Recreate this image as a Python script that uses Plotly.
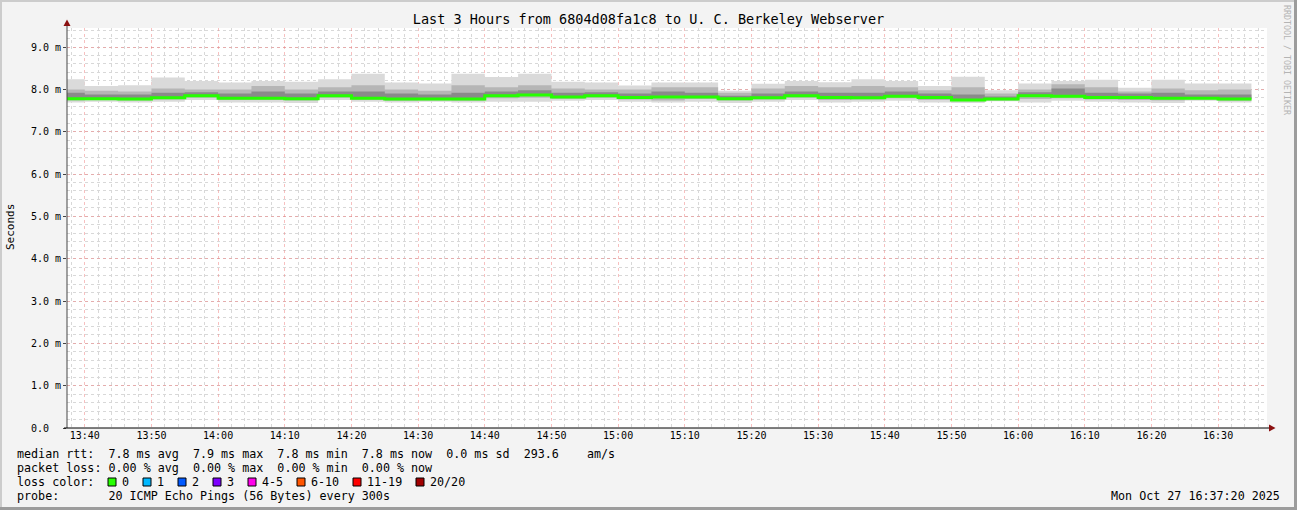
import pandas as pd
import plotly.graph_objects as go

# canvas and plot box (pixels)
W, H = 1297, 510
L, R, T, B = 67, 30, 28, 82

# 5 minute probe intervals (start times), last one ends 16:35
start_times = pd.date_range("2025-10-27 13:35", "2025-10-27 16:30", freq="5min")
end_time = pd.Timestamp("2025-10-27 16:35")

# rtt values in ms, one per interval
smoke_top = [8.24, 8.08, 8.10, 8.28, 8.20, 8.16, 8.20, 8.18, 8.24, 8.37,
             8.16, 8.14, 8.37, 8.29, 8.37, 8.18, 8.16, 8.09, 8.16,
             8.16, 7.97, 8.13, 8.20, 8.17, 8.24, 8.20, 8.08, 8.30, 7.98,
             8.14, 8.20, 8.23, 8.04, 8.23, 8.14, 8.14]
smoke_upper = [8.00, 7.97, 7.95, 8.02, 8.00, 8.00, 8.08, 8.00, 8.05, 8.10,
               8.00, 7.97, 8.10, 8.05, 8.10, 8.02, 8.00, 8.00, 8.05,
               8.05, 7.92, 8.02, 8.08, 8.05, 8.08, 8.05, 7.98, 8.05, 7.90,
               8.00, 8.12, 8.05, 7.95, 8.02, 7.98, 8.00]
smoke_core = [7.92, 7.88, 7.88, 7.92, 7.93, 7.90, 7.95, 7.90, 7.95, 7.95,
              7.90, 7.88, 7.92, 7.95, 7.98, 7.92, 7.93, 7.90, 7.95,
              7.92, 7.85, 7.90, 7.95, 7.92, 7.92, 7.95, 7.90, 7.88, 7.83,
              7.93, 8.02, 7.92, 7.90, 7.92, 7.88, 7.88]
median_rtt = [7.78, 7.78, 7.77, 7.80, 7.85, 7.79, 7.79, 7.78, 7.85, 7.79,
              7.77, 7.77, 7.77, 7.85, 7.87, 7.82, 7.85, 7.81, 7.82,
              7.82, 7.78, 7.80, 7.85, 7.81, 7.80, 7.84, 7.81, 7.75, 7.77,
              7.85, 7.84, 7.81, 7.81, 7.79, 7.79, 7.77]
smoke_lower = [7.74, 7.75, 7.74, 7.76, 7.80, 7.75, 7.75, 7.74, 7.80, 7.75,
               7.73, 7.74, 7.73, 7.79, 7.80, 7.78, 7.80, 7.76, 7.74,
               7.77, 7.74, 7.76, 7.80, 7.75, 7.76, 7.79, 7.75, 7.72, 7.74,
               7.77, 7.79, 7.76, 7.75, 7.74, 7.76, 7.73]
smoke_bottom = [7.69, 7.71, 7.69, 7.71, 7.75, 7.69, 7.69, 7.68, 7.75, 7.71,
                7.69, 7.71, 7.69, 7.71, 7.71, 7.73, 7.75, 7.71, 7.69,
                7.71, 7.68, 7.71, 7.75, 7.69, 7.71, 7.73, 7.69, 7.68, 7.72,
                7.69, 7.73, 7.71, 7.69, 7.68, 7.73, 7.69]

y_ticks = [0, 1, 2, 3, 4, 5, 6, 7, 8, 9]
y_ticktext = ["0.0\u00a0\u00a0", "1.0 m", "2.0 m", "3.0 m", "4.0 m",
              "5.0 m", "6.0 m", "7.0 m", "8.0 m", "9.0 m"]

loss_labels = ["0", "1", "2", "3", "4-5", "6-10", "11-19", "20/20"]
loss_colors = ["#26ff00", "#00b8ff", "#0059ff", "#7e00ff",
               "#ff00ea", "#ff5500", "#ff0000", "#a10000"]

FONT = "DejaVu Sans Mono"


def px(x):
    return (x - L) / (W - L - R)


def py(y):
    return (H - B - y) / (H - T - B)


def nb(s):
    return s.replace(" ", "\u00a0")


xs = list(start_times) + [end_time]


def step(vals):
    return list(vals) + [vals[-1]]


fig = go.Figure()


def band(lo, hi, color):
    fig.add_trace(go.Scatter(x=xs, y=step(lo), mode="lines", line=dict(width=0, shape="hv"),
                             hoverinfo="skip", showlegend=False))
    fig.add_trace(go.Scatter(x=xs, y=step(hi), mode="lines", line=dict(width=0, shape="hv"),
                             fill="tonexty", fillcolor=color, hoverinfo="skip", showlegend=False))


band(smoke_bottom, smoke_top, "#dadada")
band(smoke_lower, smoke_upper, "#b6b6b6")
band(median_rtt, smoke_core, "#8a8a8a")

fig.add_trace(go.Scatter(x=xs, y=step(median_rtt), mode="lines",
                         line=dict(color="#26ff00", width=3, shape="hv"),
                         name="median rtt", showlegend=False))

red_grid = "rgba(240,130,130,0.5)"
gray_grid = "#d8d8d8"

fig.update_xaxes(
    type="date",
    range=["2025-10-27 13:37:20", "2025-10-27 16:37:20"],
    dtick=600000, tick0="2025-10-27 13:40", tickformat="%H:%M",
    showgrid=True, gridcolor=red_grid, griddash="dot", gridwidth=1,
    minor=dict(dtick=120000, tick0="2025-10-27 13:40", showgrid=True,
               gridcolor=gray_grid, griddash="dot", gridwidth=1),
    showline=False, zeroline=False, ticks="",
    tickfont=dict(family=FONT, size=10, color="#000"),
)
fig.update_yaxes(
    range=[0, 9.45], tickmode="array", tickvals=y_ticks, ticktext=y_ticktext,
    showgrid=True, gridcolor=red_grid, griddash="dot", gridwidth=1,
    minor=dict(dtick=0.2, tick0=0, showgrid=True, gridcolor=gray_grid,
               griddash="dot", gridwidth=1),
    showline=False, zeroline=False, ticks="outside", ticklen=3, tickcolor="#444",
    tickfont=dict(family=FONT, size=10, color="#000"),
)

shapes = []
# axes with arrow heads
shapes.append(dict(type="line", xref="paper", yref="paper", x0=px(67), x1=px(67),
                   y0=py(428), y1=py(24), line=dict(color="#444", width=1)))
shapes.append(dict(type="line", xref="paper", yref="paper", x0=px(64), x1=px(1271),
                   y0=py(428), y1=py(428), line=dict(color="#000", width=1)))
shapes.append(dict(type="path", xref="paper", yref="paper", fillcolor="#8b1010",
                   line=dict(width=0),
                   path=f"M {px(63.5)} {py(26)} L {px(70.5)} {py(26)} L {px(67)} {py(19.5)} Z"))
shapes.append(dict(type="path", xref="paper", yref="paper", fillcolor="#8b1010",
                   line=dict(width=0),
                   path=f"M {px(1269)} {py(424.5)} L {px(1269)} {py(431.5)} L {px(1275.5)} {py(428)} Z"))
# image frame
shapes.append(dict(type="line", xref="paper", yref="paper", x0=px(0), x1=px(W),
                   y0=py(1), y1=py(1), line=dict(color="#cccccc", width=2)))
shapes.append(dict(type="line", xref="paper", yref="paper", x0=px(1), x1=px(1),
                   y0=py(0), y1=py(H), line=dict(color="#cccccc", width=2)))
shapes.append(dict(type="line", xref="paper", yref="paper", x0=px(0), x1=px(W),
                   y0=py(H - 1.5), y1=py(H - 1.5), line=dict(color="#9c9c9c", width=3)))
shapes.append(dict(type="line", xref="paper", yref="paper", x0=px(W - 1.5), x1=px(W - 1.5),
                   y0=py(0), y1=py(H), line=dict(color="#9c9c9c", width=3)))

# loss colour boxes
char_w = 7.0
text_x = 16
box_chars = [13, 18, 23, 28, 33, 40, 48, 57]
for c, col in zip(box_chars, loss_colors):
    x0 = text_x + c * char_w + 1
    shapes.append(dict(type="rect", xref="paper", yref="paper",
                       x0=px(x0), x1=px(x0 + 8), y0=py(486), y1=py(478),
                       fillcolor=col, line=dict(color="#000", width=1)))

annotations = []


def label(text, x, y, size=11.7, anchor="left", color="#000", angle=0):
    annotations.append(dict(text=nb(text), xref="paper", yref="paper", x=px(x), y=py(y),
                            xanchor=anchor, yanchor="middle", showarrow=False,
                            textangle=angle, borderpad=0,
                            font=dict(family=FONT, size=size, color=color)))


label("median rtt:  7.8 ms avg  7.9 ms max  7.8 ms min  7.8 ms now  0.0 ms sd  293.6    am/s",
      text_x, 454)
label("packet loss: 0.00 % avg  0.00 % max  0.00 % min  0.00 % now", text_x, 468)
label("loss color:", text_x, 482)
for c, lab in zip(box_chars, loss_labels):
    label(lab, text_x + (c + 2) * char_w, 482)
label("probe:       20 ICMP Echo Pings (56 Bytes) every 300s", text_x, 496)
label("Mon Oct 27 16:37:20 2025", 1281, 496, anchor="right")
label("Seconds", 10, 227, size=11, anchor="center", angle=-90)
label("RRDTOOL / TOBI OETIKER", 1287, 60, size=8.3, anchor="center", color="#b4b4b4", angle=90)

fig.update_layout(
    width=W, height=H,
    margin=dict(l=L, r=R, t=T, b=B),
    paper_bgcolor="#f3f3f3", plot_bgcolor="#ffffff",
    title=dict(text="Last 3 Hours from 6804d08fa1c8 to U. C. Berkeley Webserver",
               x=0.5, xanchor="center", y=1 - 19 / H, yanchor="middle",
               font=dict(family=FONT, size=13.5, color="#000")),
    font=dict(family=FONT),
    shapes=shapes, annotations=annotations,
    showlegend=False,
)

fig.write_html("out.html", config={"displayModeBar": False},
               post_script="document.body.style.margin='0';")
